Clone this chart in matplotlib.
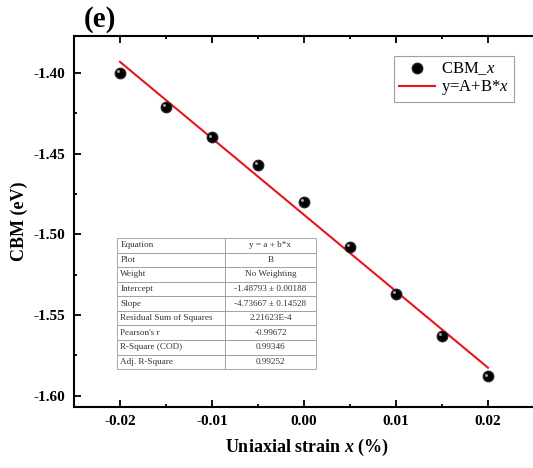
import numpy as np
import matplotlib
matplotlib.use("Agg")
import matplotlib.pyplot as plt
from matplotlib.ticker import MultipleLocator, FormatStrFormatter
from matplotlib.transforms import offset_copy

# strain values (%) and CBM (eV)
strain = [-0.02, -0.015, -0.01, -0.005, 0.0, 0.005, 0.01, 0.015, 0.02]
cbm = [-1.400, -1.421, -1.440, -1.457, -1.480, -1.508, -1.537, -1.563, -1.588]

# fit parameters as printed in the inset table
intercept = -1.48793
slope = -4.73667

table_keys = ["Equation", "Plot", "Weight", "Intercept", "Slope",
              "Residual Sum of Squares", "Pearson's r", "R-Square (COD)",
              "Adj. R-Square"]
table_vals = ["y = a + b*x", "B", "No Weighting", "-1.48793 \u00b1 0.00188",
              "-4.73667 \u00b1 0.14528", "2.21623E-4", "-0.99672", "0.99346",
              "0.99252"]

plt.rcParams['font.family'] = ['Liberation Serif', 'DejaVu Serif']
plt.rcParams['mathtext.fontset'] = 'custom'
plt.rcParams['mathtext.it'] = 'Liberation Serif:italic'
plt.rcParams['mathtext.bf'] = 'Liberation Serif:italic:bold'
plt.rcParams['mathtext.rm'] = 'Liberation Serif'

fig = plt.figure(figsize=(5.33, 4.68), dpi=100)
ax = fig.add_axes([0.1388, 0.1303, 0.8734, 0.7934])

xs = np.array([strain[0], strain[-1]])
ax.plot(xs, intercept + slope * xs, color='#e8141c', lw=1.5, zorder=2,
        label='y=A+B*$x$')
ax.plot(strain, cbm, 'o', color='black', ms=7.5, mec='#222222', zorder=3,
        label='CBM_$x$')
# little highlight on the balls
hl = offset_copy(ax.transData, fig=fig, x=-1.3, y=1.3, units='points')
ax.plot(strain, cbm, 'o', color='#9a9a9a', ms=2.2, mew=0, transform=hl, zorder=4)

# right limit runs just past the picture edge, as in the source figure
ax.set_xlim(-0.025, 0.0256)
ax.set_ylim(-1.607, -1.377)
ax.xaxis.set_major_locator(MultipleLocator(0.01))
ax.xaxis.set_minor_locator(MultipleLocator(0.005))
ax.yaxis.set_major_locator(MultipleLocator(0.05))
ax.yaxis.set_minor_locator(MultipleLocator(0.025))
ax.xaxis.set_major_formatter(FormatStrFormatter('%.2f'))
ax.yaxis.set_major_formatter(FormatStrFormatter('%.2f'))

ax.tick_params(which='both', direction='in', top=True, right=True, width=1.3)
ax.tick_params(which='major', length=5, labelsize=11, pad=6)
ax.tick_params(which='minor', length=2.5)
for lab in ax.get_xticklabels() + ax.get_yticklabels():
    lab.set_fontweight('bold')
for sp in ax.spines.values():
    sp.set_linewidth(1.5)

ax.set_xlabel('Uniaxial strain $\\mathbf{x}$ (%)', fontsize=13, fontweight='bold', labelpad=6)
ax.set_ylabel('CBM (eV)', fontsize=13, fontweight='bold', labelpad=4)

h, l = ax.get_legend_handles_labels()
leg = ax.legend(h[::-1], l[::-1], loc='upper right', bbox_to_anchor=(0.945, 0.946),
                fontsize=12, frameon=True, fancybox=False, borderpad=0.3,
                handlelength=2.2, handletextpad=0.35, labelspacing=0.05,
                borderaxespad=0)
leg.get_frame().set_edgecolor('#888888')
leg.get_frame().set_linewidth(0.8)

# inset fit table
tab = ax.table(cellText=[[k, v] for k, v in zip(table_keys, table_vals)],
               colWidths=[0.54, 0.46], cellLoc='center',
               bbox=[0.0925, 0.102, 0.428, 0.353], zorder=5)
tab.auto_set_font_size(False)
tab.set_fontsize(6.6)
for (r, c), cell in tab.get_celld().items():
    cell.set_edgecolor('#9a9a9a')
    cell.set_linewidth(0.6)
    cell.get_text().set_color('#333333')
    if c == 0:
        cell.get_text().set_ha('left')
        cell._loc = 'left'
        cell.PAD = 0.03

fig.text(0.188, 0.958, '(e)', fontsize=21, fontweight='bold', ha='center', va='center')

fig.savefig('out.png', dpi=100)
